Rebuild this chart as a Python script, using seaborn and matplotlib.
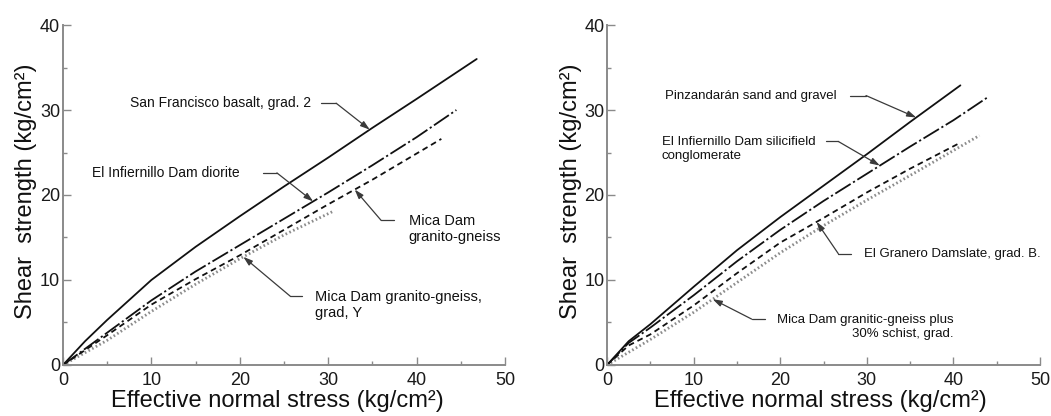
import numpy as np
import pandas as pd
import matplotlib
matplotlib.use("Agg")
import matplotlib.pyplot as plt
import seaborn as sns

# ---------------- data ----------------
# Left panel
l_solid_x = [0, 2.5, 5, 10, 15, 20, 25, 30, 35, 40, 46.8]
l_solid_y = [0, 2.8, 5.3, 10.0, 13.9, 17.5, 21.0, 24.4, 27.9, 31.3, 36.0]
l_dashdot_x = [0, 5, 10, 15, 20, 25, 30, 35, 40, 44.5]
l_dashdot_y = [0, 3.8, 7.6, 11.0, 14.1, 17.2, 20.3, 23.5, 26.8, 30.0]
l_dashed_x = [0, 5, 10, 15, 20, 25, 30, 35, 42.8]
l_dashed_y = [0, 3.5, 7.1, 10.1, 12.9, 15.9, 18.9, 21.8, 26.6]
l_dotted_x = [0, 5, 10, 15, 20, 25, 30.6]
l_dotted_y = [0, 2.9, 6.3, 9.5, 12.5, 15.3, 18.1]

# Right panel
r_solid_x = [0, 2.5, 5, 10, 15, 20, 25, 30, 35, 40.8]
r_solid_y = [0, 2.8, 4.8, 9.2, 13.5, 17.4, 21.1, 24.8, 28.6, 32.9]
r_dashdot_x = [0, 2.5, 5, 10, 15, 20, 25, 30, 35, 40, 44.1]
r_dashdot_y = [0, 2.6, 4.4, 8.2, 12.2, 15.9, 19.3, 22.5, 25.7, 28.8, 31.6]
r_dashed_x = [0, 2.5, 5, 10, 15, 20, 25, 30, 35, 40.5]
r_dashed_y = [0, 2.3, 3.6, 7.0, 10.8, 14.4, 17.3, 20.3, 23.1, 26.0]
r_dotted_x = [0, 5, 10, 15, 20, 25, 30, 35, 43.0]
r_dotted_y = [0, 3.0, 6.2, 9.7, 13.2, 16.4, 19.4, 22.3, 27.0]

xlabel = "Effective normal stress (kg/cm\u00b2)"
ylabel = "Shear  strength (kg/cm\u00b2)"
major_ticks = [0, 10, 20, 30, 40, 50]
major_yticks = [0, 10, 20, 30, 40]

# ---------------- style ----------------
sns.set_style("ticks")
plt.rcParams["font.family"] = ["Liberation Sans", "DejaVu Sans"]

AX_GRAY = "#8a8a8a"
LINE = "#111111"
LEAD = "#3a3a3a"

styles = {
    "solid": dict(color=LINE, lw=1.3, ls="-"),
    "dashdot": dict(color=LINE, lw=1.3, ls=(0, (10, 1.6, 1.2, 1.6))),
    "dashed": dict(color=LINE, lw=1.3, ls=(0, (3.2, 2.2))),
    "dotted": dict(color="#8c8c8c", lw=2.0, ls=(0, (0.6, 0.9))),
}

fig = plt.figure(figsize=(10.51, 4.16), dpi=100)
axL = fig.add_axes([0.0599, 0.1226, 0.4206, 0.8173])
axR = fig.add_axes([0.5776, 0.1226, 0.4120, 0.8173])


def draw(ax, x, y, key):
    st = styles[key]
    df = pd.DataFrame({"x": x, "y": y})
    sns.lineplot(data=df, x="x", y="y", ax=ax, color=st["color"],
                 linewidth=st["lw"], linestyle=st["ls"], estimator=None,
                 sort=False, clip_on=False)


def leader(ax, xs, ys, text, tx, ty, line_y, start_x, corner_x, tip_x,
           ha="left", fs=10):
    ax.text(tx, ty, text, ha=ha, va="center", fontsize=fs, color="#111",
            multialignment=ha, linespacing=1.2)
    ax.plot([start_x, corner_x], [line_y, line_y], color=LEAD, lw=0.9)
    tip_y = float(np.interp(tip_x, xs, ys))
    ax.annotate("", xy=(tip_x, tip_y), xytext=(corner_x, line_y),
                arrowprops=dict(arrowstyle="-|>,head_length=0.55,head_width=0.18",
                                color=LEAD, lw=0.9, shrinkA=0, shrinkB=0))


def style_axes(ax, xl_x):
    ax.set_xlim(0, 50)
    ax.set_ylim(0, 40)
    sns.despine(ax=ax)
    for s in ("left", "bottom"):
        ax.spines[s].set_color(AX_GRAY)
        ax.spines[s].set_linewidth(1.4)
    ax.set_xticks(major_ticks)
    ax.set_yticks(major_yticks)
    ax.set_xticks(np.arange(5, 50, 10), minor=True)
    ax.set_yticks(np.arange(5, 40, 10), minor=True)
    ax.tick_params(which="major", direction="in", length=6, width=1.0,
                   color=AX_GRAY, labelsize=13, labelcolor="#1a1a1a")
    ax.tick_params(axis="y", which="major", pad=2)
    ax.tick_params(axis="x", which="major", pad=5)
    ax.tick_params(which="minor", direction="in", length=3, width=1.0,
                   color=AX_GRAY)
    ax.set_xlabel(xlabel, fontsize=17, color="#111")
    ax.set_ylabel(ylabel, fontsize=17, color="#111")
    ax.xaxis.set_label_coords(xl_x, -0.075)
    ax.yaxis.set_label_coords(-0.059, 0.51)


# ---------------- left panel ----------------
draw(axL, l_dotted_x, l_dotted_y, "dotted")
draw(axL, l_dashed_x, l_dashed_y, "dashed")
draw(axL, l_dashdot_x, l_dashdot_y, "dashdot")
draw(axL, l_solid_x, l_solid_y, "solid")

leader(axL, l_solid_x, l_solid_y, "San Francisco basalt, grad. 2",
       7.6, 30.8, 30.8, 29.2, 30.9, 34.7, fs=10)
leader(axL, l_dashdot_x, l_dashdot_y, "El Infiernillo Dam diorite",
       3.3, 22.6, 22.6, 22.6, 24.2, 28.3, fs=10)
leader(axL, l_dashed_x, l_dashed_y, "Mica Dam\ngranito-gneiss",
       39.1, 16.0, 17.0, 37.5, 36.0, 33.0, fs=10.5)
leader(axL, l_dotted_x, l_dotted_y, "Mica Dam granito-gneiss,\ngrad, Y",
       28.5, 7.1, 8.1, 27.0, 25.7, 20.4, fs=10.5)
style_axes(axL, 0.484)

# ---------------- right panel ----------------
draw(axR, r_dotted_x, r_dotted_y, "dotted")
draw(axR, r_dashed_x, r_dashed_y, "dashed")
draw(axR, r_dashdot_x, r_dashdot_y, "dashdot")
draw(axR, r_solid_x, r_solid_y, "solid")

leader(axR, r_solid_x, r_solid_y, "Pinzandar\u00e1n sand and gravel",
       6.65, 31.7, 31.7, 28.0, 29.9, 35.7, fs=9.5)
leader(axR, r_dashdot_x, r_dashdot_y,
       "El Infiernillo Dam silicifield\nconglomerate",
       6.3, 25.4, 26.3, 25.3, 26.7, 31.5, fs=9.5)
leader(axR, r_dashed_x, r_dashed_y, "El Granero Damslate, grad. B.",
       29.7, 13.1, 13.1, 28.2, 26.7, 24.2, fs=9.5)
leader(axR, r_dotted_x, r_dotted_y,
       "Mica Dam granitic-gneiss plus\n30% schist, grad.",
       40.0, 4.45, 5.4, 18.2, 16.7, 12.2, ha="right", fs=9.5)
style_axes(axR, 0.492)

fig.savefig("out.png", dpi=100, facecolor="white")
